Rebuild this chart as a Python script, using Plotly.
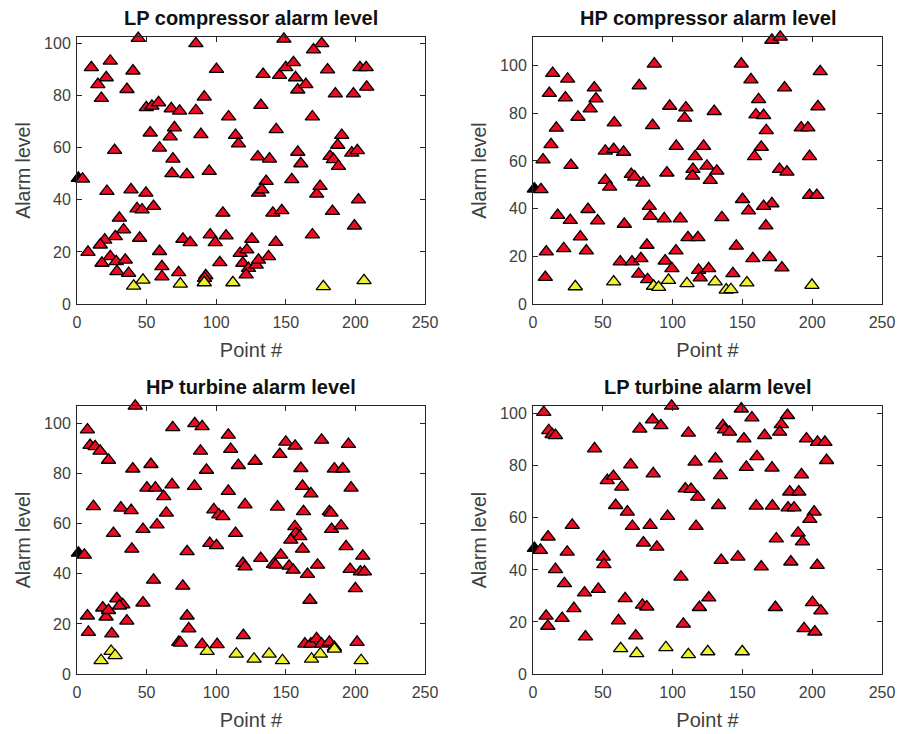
import plotly.graph_objects as go

# Alarm level readings per monitored point, split by status.
# Red: points in alarm, yellow: points below the warning band,
# black: reference marker at the start of each series.
lpc_red = [(44,102),(85.4,100),(148.6,101.7),(175.8,100),(169.9,97.6),(10.3,90.8),(23.9,93.3),(21,86.9),(15,84.3),(17.5,79),
           (40.2,89.5),(35.9,82.4),(100.2,90.1),(91.4,79.5),(133.7,88.2),(145.5,87.8),(150,90.8),(155.5,92.7),(157,86.9),(158.6,82.2),
           (164.4,84.3),(180,89.9),(185.6,80.7),(198.6,80.7),(203.3,90.8),(207.7,90.8),(208.1,83.3),(49.8,75.4),(53.8,76),(58.6,77.3),
           (67.7,75),(73.7,74.1),(85.4,74.3),(108.9,71.9),(132.1,76.3),(169.1,71.9),(52.6,65.7),(70,67.7),(67,64.2),(89,65.1),
           (113.9,64.8),(116,61.5),(143.1,67),(27,59),(59.3,59.9),(68.9,55.7),(129.9,56.5),(138.3,55.7),(158.6,58.3),(160.8,53.9),
           (187.3,61),(190.2,64.8),(181.8,56.7),(184.2,55.5),(187.8,52.9),(197.4,58),(201.4,58.9),(4,48),(68.2,50.1),(78.9,49.7),
           (95,51),(154.3,47.8),(135.9,47.1),(21.5,43.3),(38.8,43.9),(49.5,42.6),(130.4,42.6),(132.8,43.9),(172.2,42.2),(174.6,45.2),
           (43.1,36.6),(46.7,36.2),(55,37.5),(104.8,34.9),(140.7,34.9),(147.1,35.9),(183.5,35.6),(202.2,40),(30.4,33),(33.5,28.5),
           (27.5,25.9),(45,25.3),(76.1,24.9),(81.3,23.6),(95.7,26.6),(99.3,23.6),(107.1,26.2),(125.6,24.9),(142.8,23.7),(169.1,26.6),
           (199.3,30),(7.9,19.9),(19.9,24.6),(16.7,22.7),(23.9,18.2),(17.9,15.7),(28.2,16.3),(34.7,16.9),(28.7,12.5),(37.1,11.8),
           (59.3,20.2),(61,14.4),(61,10.5),(73,12.1),(92.5,10.9),(102.6,15.9),(117.2,19.5),(122,20.8),(119.1,15.7),(123.2,13.7),
           (121.5,11.2),(128.7,15),(130.4,16.9),(137.6,18.2),(91.6,9.9)]
lpc_yellow = [(40.7,6.9),(47.4,9.2),(74.2,7.7),(91.4,8.2),(112,8.2),(177,6.7),(206.2,9)]

hpc_red = [(171.1,110.7),(177.1,112),(86.9,100.7),(149.2,100.7),(14.1,96.8),(24.8,94.4),(205.7,97.5),(156.1,94.1),(76.1,91.6),(43.9,90.7),
           (45.1,86.1),(11.7,88.4),(23.2,86.5),(180.2,90.7),(161.6,85.8),(41,81.9),(32.2,78.4),(97.9,83),(109.5,82.3),(108.6,78),
           (129.8,80.8),(204.1,82.8),(159.7,79.4),(165.2,79.1),(58.2,76),(85.7,74.9),(16.7,73.8),(167.1,72.8),(192.1,73.9),(196.9,73.9),
           (12.9,66.9),(102.6,66.2),(122.2,66.2),(163.5,65.8),(51.8,64.2),(57.8,64.9),(64.9,63.7),(7.2,60.5),(116.2,61.9),(158.7,61.9),
           (198.1,61.9),(27.2,58.2),(124.6,57.9),(114.6,56.5),(131.7,55.8),(176.6,56.5),(181.9,55.4),(70.4,54.4),(72.8,53.3),(95.9,55),
           (114.3,53.7),(78.8,50.8),(127,51.9),(51.8,51.9),(54.9,49.1),(5.7,48),(198.1,45.6),(203.3,45.6),(150.1,43.9),(171.1,42.1),
           (165.2,41),(154.4,39.1),(39.4,39.7),(83.3,41),(84,36.8),(94,35.8),(105.5,35.8),(135.3,36.3),(17.7,37.2),(26.7,35.1),
           (46.3,34.9),(65.4,33.5),(166.8,32.8),(33.9,28.2),(111,27.9),(118.1,27.9),(81.6,24.7),(145.6,24.3),(9.5,21.9),(22,23.3),
           (38.2,22.3),(102.4,22.3),(62.5,17.7),(70.9,17.7),(77.3,19.1),(94.7,18.1),(99.5,14.9),(157.5,19.1),(169.5,19.5),(178.3,15.2),
           (75.7,12.6),(82.1,10.3),(118.6,14.2),(125.8,14.9),(119.8,11),(143.2,12.8),(8.8,11.2)]
hpc_yellow = [(30.3,7.3),(57.8,9.3),(86.4,7.5),(90,7),(97.1,10),(110.3,8.6),(130.5,9.3),(138.4,5.9),(141.8,6.1),(153.2,8.9),(199.8,7.9)]

hpt_red = [(41.8,107),(7.5,97.5),(68.8,98.4),(84.6,100),(89.9,98.8),(108.7,95.4),(110.4,89.7),(9.4,91.3),(13,90.8),(16.6,89),
           (22.6,85.4),(40.1,81.9),(53.1,83.7),(88.7,89),(93,81.4),(115.9,83.3),(127.9,85),(145.7,87.7),(150,92.6),(156.7,91),
           (175.7,93.4),(195,91.7),(160.8,82.1),(184.9,81.9),(190.9,81.9),(50.2,74.3),(56.3,74.3),(68.3,75.6),(62.3,70.9),(84.4,75),
           (108.7,73),(162,75),(168,72),(196.9,74.3),(11.8,66.9),(31.5,66.3),(38.9,65.3),(64.2,64.3),(98.3,65.6),(101.9,63.6),
           (104.8,62.9),(120.7,67.6),(144,66.7),(162.7,64.9),(181.3,64.9),(182.5,64.3),(26.2,56.2),(47.4,57.8),(57.5,59.6),(113.9,56.2),
           (156.5,58.9),(157.2,56.2),(160.1,54.9),(153.6,53.5),(182.9,57.8),(189.7,59.2),(193.3,50.9),(95.4,52.2),(100.2,51.3),(162,49.9),
           (5.3,47.5),(39.4,49.9),(79.1,48.9),(55,37.5),(76,35.1),(119.2,44.2),(120.7,42.8),(132,46.2),(141.1,43.8),(142.8,43.5),
           (146.4,47.5),(152.4,43.1),(155.3,41.5),(165.6,39.8),(172.8,43.5),(196.2,41.8),(205.3,47.1),(203.6,40.8),(206.5,40.8),(200,34.1),
           (167.3,29.5),(7.5,23.2),(8.2,16.7),(18.5,26.4),(20.9,22.8),(22.6,25.4),(28.6,30.1),(32.9,27.7),(30.5,27.2),(35.8,21.2),
           (25,16.1),(47.4,28.4),(79.1,23.2),(80.3,18.1),(73.1,12.7),(74.3,12.4),(89.9,11.8),(100.7,11.8),(119.5,15.4),(163.7,12),
           (168,12),(172.1,14.1),(175.7,12),(181.3,12.7),(184.9,10.7),(201.2,12.7)]
hpt_yellow = [(17.3,5.4),(24.5,9.1),(27.4,7.4),(93.5,9.1),(114.4,8),(127.2,6),(138,8),(147.6,5.4),(168.5,6),(174.8,8),(184.9,10),(204.1,5.4)]

lpt_red = [(99.3,103),(7.7,100.6),(149.2,101.9),(156.8,98.5),(182.3,99.4),(177.9,95.9),(176.7,93),(85.6,97.7),(91.6,95.5),(76.5,94.2),
           (111.3,92.6),(136,95.5),(137.2,93.9),(140.8,93),(151.1,90.4),(165.9,91.7),(11.3,93.6),(13.7,92.1),(16.1,91.7),(44.1,86.6),
           (195.9,90.4),(203.8,89.1),(209.1,89.1),(210.3,82.1),(70,80.4),(116.1,81.5),(130.7,82.7),(160.4,83.6),(152.8,79.5),(171.2,79.2),
           (53.2,74.4),(57.6,76),(86.1,77),(134.3,76.3),(192.3,76.6),(63.5,71.9),(109.1,71.2),(113.2,71),(118,68),(183.9,70),
           (190.4,70),(59.2,64.8),(67.6,62.3),(132.9,64.8),(159.9,64.6),(171.5,64.6),(182.7,63.9),(187,63.9),(201.4,62.3),(198.3,59.5),
           (96.4,60.6),(28.1,57.2),(71.2,56.8),(83.9,57.2),(116.8,56.8),(10.8,52.7),(79.1,50.4),(88.7,48.8),(174.3,52),(189.9,54.2),
           (193,50.8),(5.3,47.6),(24.5,46.9),(50.4,45),(50.8,42.1),(134.8,43.7),(146.8,45),(163.5,41.2),(184.7,43.1),(203.6,41.8),
           (16.1,40.2),(22.5,34.8),(36.9,31.2),(46.8,32.6),(106,37.3),(29.3,25.2),(66,29),(78.4,26.5),(81.5,25.8),(119.2,25.6),
           (125.9,29.3),(173.6,25.6),(200.2,27.5),(206.2,24.3),(9.4,22.3),(10.6,18.4),(20.9,21.4),(61.2,20.5),(107.7,19.2),(37.6,14.3),
           (73.6,14.7),(194.2,17.5),(201.9,16.2)]
lpt_yellow = [(62.8,9.8),(74.3,7.9),(95.2,10.2),(111.3,7.5),(125.2,8.6),(149.9,8.6)]

ref_point = [(1, 48.3)]

titles = ["LP compressor alarm level", "HP compressor alarm level",
          "HP turbine alarm level", "LP turbine alarm level"]
y_limits = [102.5, 112, 107, 103]
x_ticks = [0, 50, 100, 150, 200, 250]
y_ticks = [0, 20, 40, 60, 80, 100]

panels = [(lpc_red, lpc_yellow), (hpc_red, hpc_yellow),
          (hpt_red, hpt_yellow), (lpt_red, lpt_yellow)]

W, H = 898, 734
x_domains = [[77 / W, 425 / W], [533 / W, 882 / W]]
y_domains = [[1 - 304 / H, 1 - 37 / H], [1 - 674 / H, 1 - 406 / H]]

FONT = "Liberation Sans, Arial, Helvetica, sans-serif"
AX = "#262626"
TICK = "#404040"

fig = go.Figure()


def add_series(pts, color, idx):
    fig.add_trace(go.Scatter(
        x=[p[0] for p in pts], y=[p[1] for p in pts], mode="markers",
        marker=dict(symbol="triangle-up", size=12.5, color=color,
                    line=dict(color="black", width=1.3)),
        cliponaxis=False,
        xaxis="x" if idx == 0 else f"x{idx + 1}",
        yaxis="y" if idx == 0 else f"y{idx + 1}",
        showlegend=False, hoverinfo="x+y"))


layout = dict(width=W, height=H, margin=dict(l=0, r=0, t=0, b=0, autoexpand=False),
              paper_bgcolor="white", plot_bgcolor="white",
              font=dict(family=FONT, color=AX), showlegend=False,
              annotations=[])

for i, (red, yellow) in enumerate(panels):
    add_series(ref_point, "#000000", i)
    add_series(red, "#EE0A22", i)
    add_series(yellow, "#EEF030", i)

    row, col = divmod(i, 2)
    sfx = "" if i == 0 else str(i + 1)
    common = dict(showline=True, linecolor=AX, linewidth=1, mirror="allticks",
                  ticks="inside", ticklen=5, tickcolor=AX, showgrid=False,
                  zeroline=False, automargin=False,
                  tickfont=dict(size=16, family=FONT, color=TICK))
    layout["xaxis" + sfx] = dict(common, domain=x_domains[col], range=[0, 250],
                                 tickvals=x_ticks, anchor="y" + sfx,
                                 ticklabelstandoff=4,
                                 title=dict(text="Point #", standoff=12,
                                            font=dict(size=20, family=FONT, color=TICK)))
    layout["yaxis" + sfx] = dict(common, domain=y_domains[row], range=[0, y_limits[i]],
                                 tickvals=y_ticks, anchor="x" + sfx,
                                 ticklabelstandoff=2,
                                 title=dict(text="Alarm level", standoff=8,
                                            font=dict(size=19.5, family=FONT, color=TICK)))
    layout["annotations"].append(dict(
        text="<b>" + titles[i] + "</b>", x=sum(x_domains[col]) / 2,
        y=y_domains[row][1], xref="paper", yref="paper", xanchor="center",
        yanchor="bottom", yshift=6, showarrow=False,
        font=dict(size=20, family=FONT, color="#111111")))

fig.update_layout(**layout)
fig.write_html("out.html")
